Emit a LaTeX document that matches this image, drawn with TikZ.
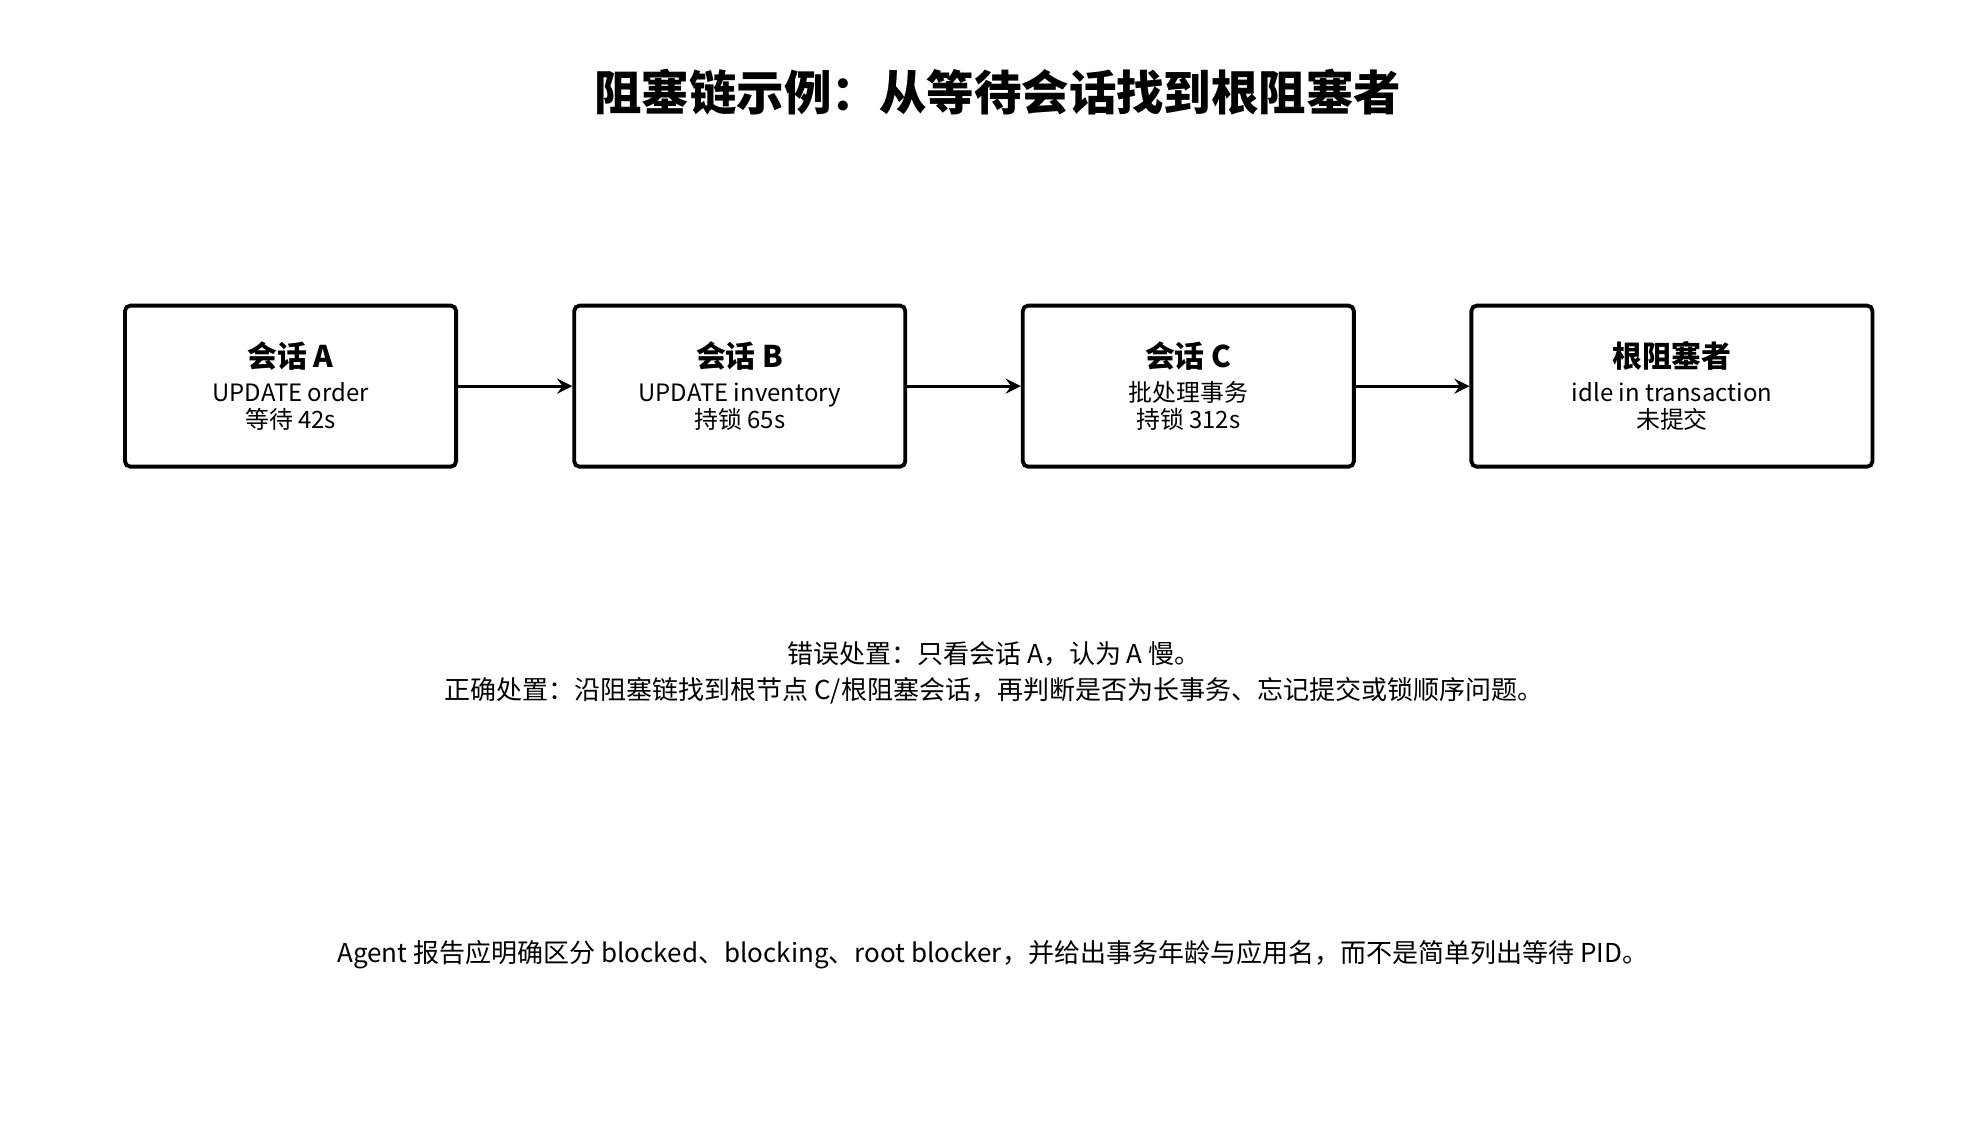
\documentclass[tikz,border=0pt]{standalone}
\usepackage{fontspec}
\setmainfont{Noto Sans CJK SC}
\usetikzlibrary{positioning}
\tikzset{
  sess/.style={draw, line width=1.1pt, rounded corners=1.5pt, minimum width=3.31cm, minimum height=1.61cm, align=center, inner sep=0pt},
  link/.style={->, line width=0.9pt, >=stealth}
}
\newcommand{\hd}[1]{{\fontsize{8.5pt}{10pt}\selectfont\bfseries #1}\\[2pt]}
\begin{document}
\begin{tikzpicture}[x=0.012744cm, y=-0.012744cm]
  \useasboundingbox (0,0) rectangle (1560,898);
  \node[font=\fontsize{13.5pt}{16pt}\selectfont\bfseries] (title) at (783,72) {阻塞链示例：从等待会话找到根阻塞者};
  \begin{scope}[every node/.append style={font=\fontsize{6.8pt}{7.6pt}\selectfont}]
  \node[sess] (sa) at (228,303) {\hd{会话 A}UPDATE order\\等待 42s};
  \node[sess] (sb) at (580.5,303) {\hd{会话 B}UPDATE inventory\\持锁 65s};
  \node[sess] (sc) at (932.5,303) {\hd{会话 C}批处理事务\\持锁 312s};
  \node[sess, minimum width=4.01cm] (root) at (1312,303) {\hd{根阻塞者}idle in transaction\\未提交};
  \end{scope}
  \draw[link] (sa) -- (sb);
  \draw[link] (sb) -- (sc);
  \draw[link] (sc) -- (root);
  \node[font=\fontsize{7.4pt}{10pt}\selectfont, align=center] (note) at (780,528) {错误处置：只看会话 A，认为 A 慢。\\正确处置：沿阻塞链找到根节点 C/根阻塞会话，再判断是否为长事务、忘记提交或锁顺序问题。};
  \node[font=\fontsize{7.4pt}{10pt}\selectfont] (agent) at (779,749) {Agent 报告应明确区分 blocked、blocking、root blocker，并给出事务年龄与应用名，而不是简单列出等待 PID。};
\end{tikzpicture}
\end{document}
